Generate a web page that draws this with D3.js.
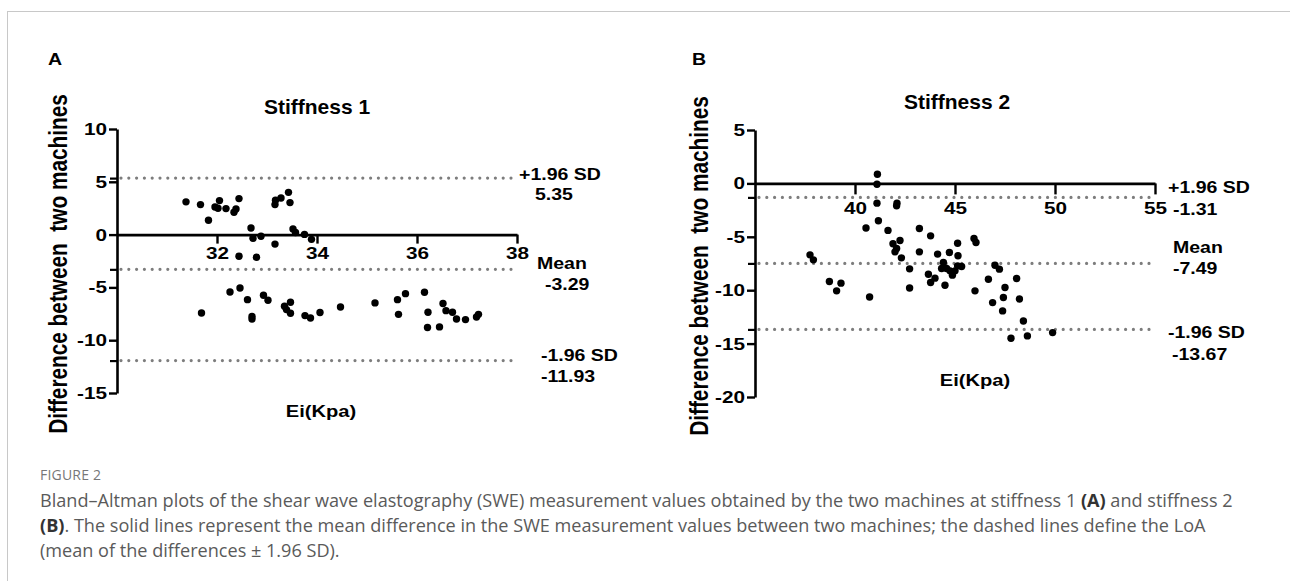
<!DOCTYPE html>
<html>
<head>
<meta charset="utf-8">
<title>Figure 2</title>
<style>
body { margin: 0; background: #fff; width: 1290px; height: 581px; overflow: hidden; position: relative; }
#frame { position: absolute; left: 7px; top: 11px; width: 1300px; height: 600px;
  border-top: 1px solid #c8c8c8; border-left: 1px solid #c8c8c8; }
#chart { position: absolute; left: 0; top: 0; }
#chart text { font-family: "Liberation Sans", Arial, sans-serif; font-weight: bold; fill: #000; }
.fig-label { position: absolute; left: 40px; top: 465px; font-family: "Open Sans", sans-serif;
  font-size: 14px; line-height: 20px; color: #777; letter-spacing: 0.2px; }
.caption { position: absolute; left: 40px; top: 487.5px; font-family: "Open Sans", sans-serif;
  font-size: 18.1px; line-height: 25px; color: #5a5a5a; white-space: nowrap; }
.caption b { color: #333; }
</style>
</head>
<body>
<div id="frame"></div>
<svg id="chart" width="1290" height="581"></svg>
<div class="fig-label">FIGURE 2</div>
<div class="caption">
  <div>Bland–Altman plots of the shear wave elastography (SWE) measurement values obtained by the two machines at stiffness 1 <b>(A)</b> and stiffness 2</div>
  <div><b>(B)</b>. The solid lines represent the mean difference in the SWE measurement values between two machines; the dashed lines define the LoA</div>
  <div>(mean of the differences ± 1.96 SD).</div>
</div>

<script src="https://d3js.org/d3.v7.min.js"></script>
<script>
// stiffness 1: [mean Ei, difference]
const stiff1 = [
  [31.38, 3.10], [31.67, 2.84], [31.83, 1.36], [31.96, 2.62], [32.05, 3.22], [32.02, 2.50],
  [32.18, 2.46], [32.34, 2.12], [32.38, 2.43], [32.44, 3.41], [33.16, 2.84], [33.17, 3.25],
  [33.28, 3.47], [33.43, 4.00], [33.46, 3.03],
  [32.68, 0.63], [32.72, -0.35], [32.88, -0.16], [33.16, -0.90], [33.52, 0.54], [33.57, 0.20],
  [33.75, 0.02], [33.89, -0.45],
  [32.44, -2.05], [32.79, -2.15],
  [31.69, -7.42], [32.26, -5.43], [32.46, -5.05], [32.61, -6.16], [32.70, -7.75], [32.70, -8.00],
  [32.93, -5.75], [33.02, -6.22], [33.35, -6.79], [33.39, -7.10], [33.47, -6.41], [33.47, -7.45],
  [33.76, -7.67], [33.87, -7.90], [34.06, -7.38], [34.47, -6.85], [35.16, -6.47], [35.61, -6.16],
  [35.77, -5.59], [35.63, -7.55], [36.15, -5.46], [36.22, -7.35], [36.21, -8.80], [36.45, -8.74],
  [36.52, -6.53], [36.58, -7.20], [36.71, -7.35], [36.79, -7.99], [36.97, -8.05], [37.19, -7.80],
  [37.23, -7.55]
];

// stiffness 2
const stiff2 = [
  [37.75, -6.69], [37.92, -7.16], [38.72, -9.19], [39.08, -10.06], [39.30, -9.34], [40.55, -4.17],
  [40.73, -10.63], [41.12, 0.85], [41.10, -0.08], [41.10, -1.85], [41.17, -3.50], [41.65, -4.40],
  [42.10, -1.85], [42.08, -2.10], [41.90, -5.65], [42.25, -5.34], [42.08, -6.09], [42.00, -6.41],
  [42.32, -6.97], [42.73, -8.00], [42.73, -9.80], [43.22, -4.22], [43.22, -6.41], [43.67, -8.50],
  [43.78, -4.91], [43.78, -9.28], [44.00, -8.87], [44.13, -6.62], [44.50, -9.53], [44.42, -7.40],
  [44.58, -7.97], [44.33, -7.97], [44.72, -6.47], [44.75, -8.19], [45.00, -8.19], [44.87, -8.59],
  [45.13, -7.72], [45.33, -7.78], [45.13, -5.60], [45.15, -6.78], [45.95, -5.16], [46.05, -5.53],
  [46.00, -10.06], [46.67, -8.97], [46.88, -11.16], [47.00, -7.66], [47.22, -8.03], [47.50, -9.75],
  [47.42, -10.69], [47.38, -11.94], [48.08, -8.91], [48.22, -10.82], [48.42, -12.88], [47.80, -14.50],
  [48.62, -14.28], [49.88, -13.97]
];

// upper LoA, mean, lower LoA
const limits1 = [5.35, -3.29, -11.93];
const limits2 = [-1.31, -7.49, -13.67];
const limitNames = ["+1.96 SD", "Mean", "-1.96 SD"];

const xTicks1 = [32, 34, 36, 38];
const yTicks1 = [10, 5, 0, -5, -10, -15];
const xTicks2 = [40, 45, 50, 55];
const yTicks2 = [5, 0, -5, -10, -15, -20];

const SX = 1.22; // the figure is stretched sideways

const panels = [
  { letter: "A", title: "Stiffness 1", data: stiff1, limits: limits1,
    xDomain: [30, 38], yDomain: [-15, 10], xTicks: xTicks1, yTicks: yTicks1, lineEnd: 37.9,
    left: 117, right: 517, top: 129, bottom: 393, xTickSize: 9, xTickPad: 3,
    letterPos: [48, 65], titlePos: [317, 114], xLabelPos: [321, 417], yLabelPos: [67, 264],
    namePos: [[519, 180], [537, 269], [541, 361]], valuePos: [[535, 200], [545, 290], [541, 382]] },
  { letter: "B", title: "Stiffness 2", data: stiff2, limits: limits2,
    xDomain: [35, 55], yDomain: [-20, 5], xTicks: xTicks2, yTicks: yTicks2, lineEnd: 54.75,
    left: 755, right: 1155, top: 130, bottom: 397, xTickSize: 11, xTickPad: 8,
    letterPos: [692, 65], titlePos: [957, 109], xLabelPos: [975, 386], yLabelPos: [708, 266],
    namePos: [[1168, 193], [1173, 253], [1168, 338]], valuePos: [[1173, 215], [1173, 274], [1172, 360]] }
];

const svg = d3.select("#chart");

function putText(g, [x, y], text, size, opts = {}) {
  const sx = opts.sx || SX;
  const t = g.append("text")
    .attr("transform", `translate(${x},${y}) scale(${sx},1)` + (opts.rotate ? " rotate(-90)" : ""))
    .attr("font-size", size)
    .attr("text-anchor", opts.anchor || "start")
    .text(text);
  if (opts.space) t.style("white-space", "pre");
  return t;
}

function drawPanel(p) {
  const g = svg.append("g");
  const x = d3.scaleLinear().domain(p.xDomain).range([p.left, p.right]);
  const y = d3.scaleLinear().domain(p.yDomain).range([p.bottom, p.top]);

  // dotted reference lines
  g.selectAll("line.ref").data(p.limits).join("line")
    .attr("class", "ref")
    .attr("x1", x(p.xDomain[0]) + 4).attr("x2", x(p.lineEnd))
    .attr("y1", d => y(d)).attr("y2", d => y(d))
    .attr("stroke", "#7d7d7d")
    .attr("stroke-width", 3.2)
    .attr("stroke-linecap", "round")
    .attr("stroke-dasharray", "0 7.8");

  // small marks on the y axis where the lines start
  g.append("g")
    .attr("transform", `translate(${p.left},0)`)
    .call(d3.axisLeft(y).tickValues(p.limits).tickFormat("").tickSize(7).tickSizeOuter(0))
    .call(a => a.select(".domain").remove())
    .call(a => a.selectAll("line").attr("stroke-width", 2.2));

  // y axis
  const yAxis = g.append("g")
    .attr("transform", `translate(${p.left},0)`)
    .call(d3.axisLeft(y).tickValues(p.yTicks).tickSize(8).tickPadding(2)
      .tickSizeOuter(0).tickFormat(d => String(d)));

  // x axis, crossing at zero
  const xAxis = g.append("g")
    .attr("transform", `translate(0,${y(0)})`)
    .call(d3.axisBottom(x).tickValues(p.xTicks).tickSize(p.xTickSize).tickPadding(p.xTickPad)
      .tickSizeOuter(0).tickFormat(d => String(d)));

  [yAxis, xAxis].forEach(a => {
    a.attr("font-family", null).attr("font-size", null);
    a.select(".domain").attr("stroke-width", 2.6);
    a.selectAll(".tick line").attr("stroke-width", 2.4);
    a.selectAll("text").attr("font-size", 17).attr("transform", `scale(${SX},1)`);
  });
  yAxis.selectAll("text").attr("x", -10 / SX);

  // points
  g.selectAll("circle").data(p.data).join("circle")
    .attr("cx", d => x(d[0]))
    .attr("cy", d => y(d[1]))
    .attr("r", 3.7)
    .attr("fill", "#000");

  // labels
  putText(g, p.letterPos, p.letter, 17, { sx: 1.15 });
  putText(g, p.titlePos, p.title, 20, { anchor: "middle", sx: 1.05 });
  putText(g, p.xLabelPos, "Ei(Kpa)", 16.5, { anchor: "middle" });
  putText(g, p.yLabelPos, "Difference between  two machines", 20.8, { anchor: "middle", rotate: true, space: true });

  p.limits.forEach((v, i) => {
    putText(g, p.namePos[i], limitNames[i], 16);
    putText(g, p.valuePos[i], v.toFixed(2), 16);
  });
}

panels.forEach(drawPanel);
</script>
</body>
</html>
